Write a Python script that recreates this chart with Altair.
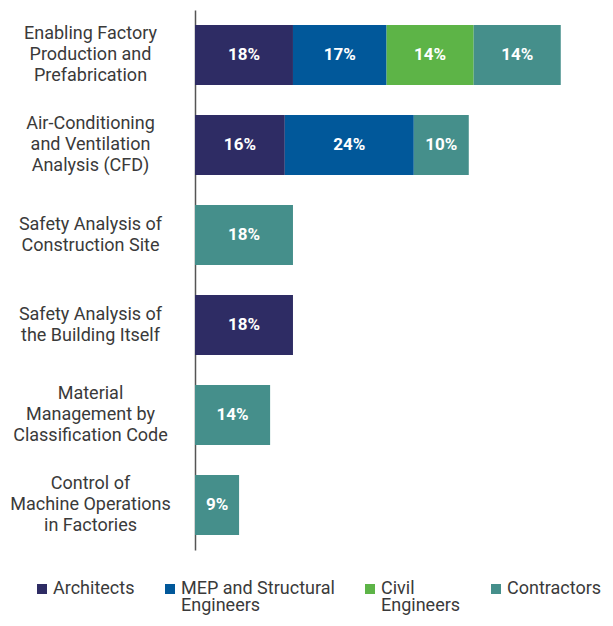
import altair as alt
import pandas as pd

categories = [
    "Enabling Factory|Production and|Prefabrication",
    "Air-Conditioning|and Ventilation|Analysis (CFD)",
    "Safety Analysis of|Construction Site",
    "Safety Analysis of|the Building Itself",
    "Material|Management by|Classification Code",
    "Control of|Machine Operations|in Factories",
]
groups = ["Architects| ", "MEP and Structural|Engineers", "Civil|Engineers", "Contractors| "]
colors = ["#2e2c64", "#01589a", "#5db447", "#458f8b"]

row_cat = [0, 0, 0, 0, 1, 1, 1, 2, 3, 4, 5]
row_grp = [0, 1, 2, 3, 0, 1, 3, 3, 0, 3, 3]
row_val = [18.0, 17.2, 16.0, 16.0, 16.5, 23.7, 10.1, 18.0, 18.0, 13.8, 8.1]
row_lbl = ["18%", "17%", "14%", "14%", "16%", "24%", "10%", "18%", "18%", "14%", "9%"]

df = pd.DataFrame({
    "category": [categories[i] for i in row_cat],
    "group": [groups[i] for i in row_grp],
    "idx": row_grp,
    "value": row_val,
    "label": row_lbl,
})

FONT = "Roboto"
TXT = "#3a3a3a"
xscale = alt.Scale(domain=[0, 70], nice=False, zero=True)
yenc = alt.Y(
    "category:N",
    sort=categories,
    scale=alt.Scale(paddingInner=1 / 3, paddingOuter=1 / 6),
    axis=alt.Axis(
        title=None,
        labelExpr="split(datum.label, '|')",
        labelAlign="center",
        labelPadding=105,
        labelFontSize=18,
        labelLineHeight=21,
        labelOffset={
            "condition": {"test": "length(split(datum.label, '|')) == 3", "value": -21},
            "value": -10.5,
        },
        labelColor=TXT,
        labelLimit=0,
        ticks=False,
        domainColor="#555555",
        domainWidth=1.5,
        grid=False,
    ),
)

base = alt.Chart(df)

bars = base.mark_bar(strokeWidth=0).encode(
    y=yenc,
    x=alt.X("value:Q", stack="zero", scale=xscale, axis=None),
    color=alt.Color(
        "group:N",
        scale=alt.Scale(domain=groups, range=colors),
        legend=alt.Legend(
            title=None,
            orient="none",
            legendX=-162,
            legendY=570,
            direction="horizontal",
            columns=4,
            columnPadding=26,
            symbolType="square",
            symbolSize=100,
            symbolStrokeWidth=0,
            labelFontSize=18,
            labelColor=TXT,
            labelOffset=2,
            labelLimit=0,
            labelBaseline="middle",
            labelExpr="split(datum.label, '|')",
            padding=0,
        ),
    ),
    order=alt.Order("idx:Q", sort="ascending"),
)

texts = base.transform_stack(
    stack="value",
    groupby=["category"],
    as_=["x0", "x1"],
    sort=[alt.SortField("idx", order="ascending")],
).transform_calculate(
    mid="(datum.x0 + datum.x1) / 2"
).mark_text(
    color="white", fontWeight="bold", fontSize=17, font=FONT
).encode(
    y=alt.Y("category:N", sort=categories),
    x=alt.X("mid:Q", scale=xscale),
    text="label:N",
)

chart = (
    alt.layer(bars, texts)
    .properties(
        width=381,
        height=540,
        autosize=alt.AutoSizeParams(type="none"),
        padding={"top": 2, "left": 187, "right": 29, "bottom": 68},
    )
    .configure(font=FONT, style={"guide-label": {"lineHeight": 17}})
    .configure_view(stroke=None)
)

chart.save("out.html", embed_options={"renderer": "svg", "actions": False})
